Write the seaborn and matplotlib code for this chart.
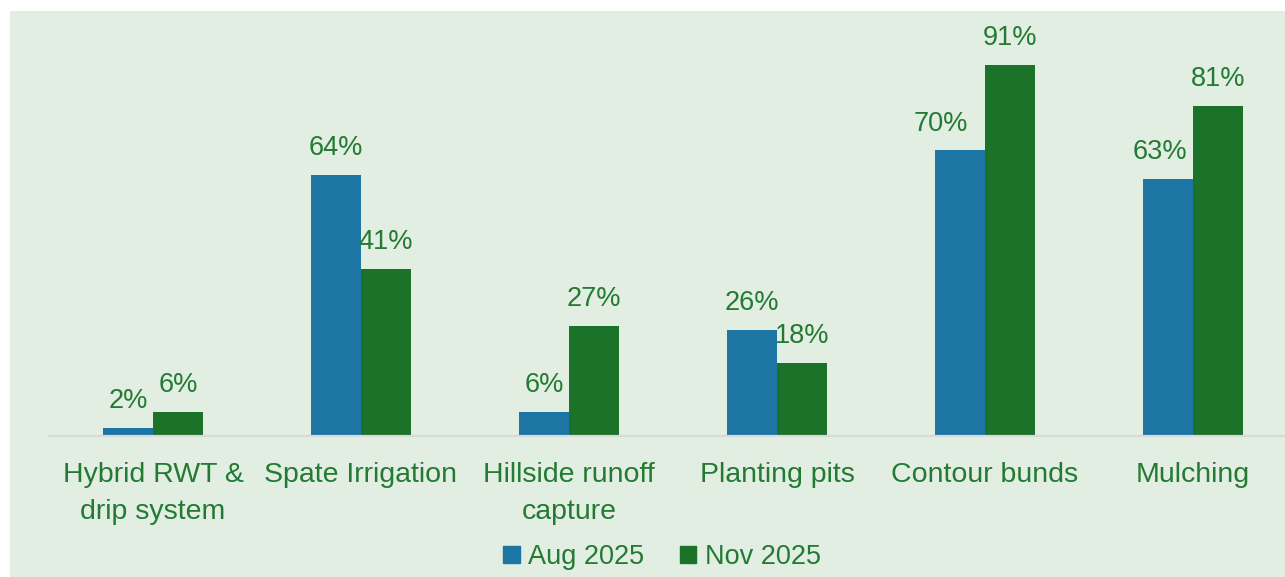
import pandas as pd
import seaborn as sns
import matplotlib.pyplot as plt
from matplotlib.patches import Rectangle

# data
categories = ["Hybrid RWT &\ndrip system", "Spate Irrigation", "Hillside runoff\ncapture",
              "Planting pits", "Contour bunds", "Mulching"]
aug_2025 = [2, 64, 6, 26, 70, 63]
nov_2025 = [6, 41, 27, 18, 91, 81]
periods = ["Aug 2025", "Nov 2025"]

df = pd.DataFrame({
    "practice": categories * 2,
    "period": [periods[0]] * 6 + [periods[1]] * 6,
    "share": aug_2025 + nov_2025,
})

blue = "#1c75a2"
green = "#1b7229"
text_green = "#237a33"
panel = "#e2eee1"

sns.set_theme(style="white")
plt.rcParams["font.family"] = ["Liberation Sans", "DejaVu Sans"]

fig = plt.figure(figsize=(12.85, 5.77), dpi=100)
fig.patch.set_facecolor("white")
fig.add_artist(Rectangle((10 / 1285, 0), 1, (577 - 11) / 577, transform=fig.transFigure,
                         facecolor=panel, edgecolor="none", zorder=0))

ax = fig.add_axes([49 / 1285, 141 / 577, 1236 / 1285, 425 / 577])
ax.set_facecolor("none")

sns.barplot(data=df, x="practice", y="share", hue="period", order=categories,
            hue_order=periods, palette=[blue, green], width=0.48, saturation=1,
            linewidth=0, ax=ax, legend=False)

labels = []
for cont in ax.containers:
    labels.append(ax.bar_label(cont, fmt="%d%%", padding=10, fontsize=19.5, color=text_green))

# excel nudged these two labels left so they don't touch their neighbours
labels[0][4].xyann = (-14, 10)
labels[0][5].xyann = (-6, 10)

ax.set_xlim(-0.5, (1285 - 153) / 208)
ax.set_ylim(0, 425 / 4.08)
ax.set_xlabel("")
ax.set_ylabel("")
ax.set_yticks([])
ax.set_xticks(range(len(categories)), categories, linespacing=1.52)
ax.tick_params(axis="x", length=0, pad=19, labelsize=20.5, labelcolor=text_green)
for s in ["top", "right", "left"]:
    ax.spines[s].set_visible(False)
ax.spines["bottom"].set_color("#d9d9d9")
ax.spines["bottom"].set_linewidth(1.6)

handles = [Rectangle((0, 0), 1, 1, color=blue), Rectangle((0, 0), 1, 1, color=green)]
fig.legend(handles, periods, loc="center", bbox_to_anchor=(662 / 1285, 1 - 557 / 577),
           ncol=2, frameon=False, fontsize=19.5, labelcolor=text_green,
           handlelength=0.62, handleheight=0.62, handletextpad=0.3, columnspacing=1.3)

fig.savefig("out.png", dpi=100)
